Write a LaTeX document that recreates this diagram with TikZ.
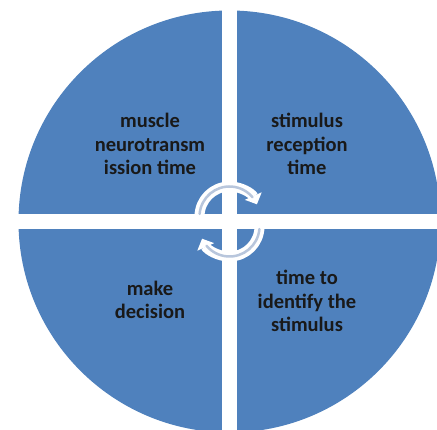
\documentclass[tikz,border=0pt]{standalone}
\usepackage{fontspec}
\setmainfont{Carlito}
\usetikzlibrary{arrows.meta}
\definecolor{quadblue}{HTML}{4F81BD}
\definecolor{arrowline}{HTML}{B8C6DC}
\tikzset{
  quadtext/.style={align=center,text=black!90,font=\bfseries\fontsize{20.5}{23.5}\selectfont},
  cyclearrow/.style={white,line width=10pt,-{Triangle[width=18pt,length=9pt]}},
  cycleinner/.style={arrowline,line width=2.5pt,line cap=round}
}
\begin{document}
\begin{tikzpicture}[x=1pt,y=1pt]
\useasboundingbox (-229.5,-208.5) rectangle (207.5,221.5);
\begin{scope}
\clip (-229.5,-208.5) rectangle (207.5,221.5);
\fill [quadblue] (0,0) circle (211);
\end{scope}
% white cross between the quarters
\fill [white] (-7.5,-208.5) rectangle (7.5,221.5);
\fill [white] (-229.5,-7.5) rectangle (207.5,7.5);
% labels
\node (muscle) [quadtext] at (-79.5,77.5) {muscle\\neurotransm\\ission time};
\node (stimulus) [quadtext] at (77.5,77.5) {stimulus\\reception\\time};
\node (decision) [quadtext] at (-79.5,-78.5) {make\\decision};
\node (identify) [quadtext] at (77.5,-79.5) {time to\\identify the\\stimulus};
% circular arrows in the middle
\coordinate (topc) at (0,5);
\coordinate (botc) at (0,-5);
\draw [cyclearrow] ([shift={(180:30)}]topc) arc (180:24:30);
\draw [cycleinner] ([shift={(175:30)}]topc) arc (175:40:30);
\draw [cyclearrow] ([shift={(0:30)}]botc) arc (0:-156:30);
\draw [cycleinner] ([shift={(-5:30)}]botc) arc (-5:-140:30);
\end{tikzpicture}
\end{document}
